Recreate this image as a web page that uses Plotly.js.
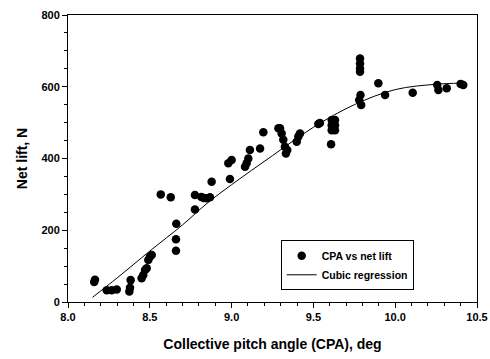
<!DOCTYPE html>
<html>
<head>
<meta charset="utf-8">
<script src="https://cdn.plot.ly/plotly-3.0.1.min.js"></script>
<style>html,body{margin:0;padding:0;background:#fff;}#chart{width:490px;height:359px;}</style>
</head>
<body>
<div id="chart"></div>
<script>
// Measured data: collective pitch angle (deg) vs net lift (N)
const cpa = [
  8.160, 8.165, 8.237, 8.267, 8.298, 8.375, 8.379, 8.383,
  8.450, 8.460, 8.471, 8.481, 8.491, 8.501, 8.512,
  8.567, 8.628, 8.660, 8.660, 8.662,
  8.776, 8.776, 8.815, 8.830, 8.848, 8.868, 8.878,
  8.980, 8.990, 9.000, 9.082, 9.092, 9.102, 9.112, 9.174, 9.194,
  9.286, 9.296, 9.306, 9.316, 9.326, 9.332, 9.340,
  9.398, 9.408, 9.418, 9.530, 9.540,
  9.612, 9.632, 9.612, 9.632, 9.612, 9.632, 9.608,
  9.785, 9.785, 9.785, 9.785, 9.788, 9.780, 9.792,
  9.897, 9.938, 10.107, 10.257, 10.264, 10.315, 10.400, 10.416
];
const netLift = [
  56, 62, 33, 33, 35, 29, 40, 61,
  66, 75, 89, 94, 117, 126, 131,
  300, 292, 175, 143, 218,
  258, 298, 293, 290, 289, 292, 335,
  387, 343, 396, 377, 387, 400, 424, 428, 473,
  484, 484, 470, 452, 433, 414, 424,
  447, 461, 470, 496, 499,
  507, 507, 493, 493, 479, 479, 440,
  679, 665, 651, 642, 577, 563, 549,
  610, 577, 583, 605, 591, 596, 608, 605
];
// Cubic regression curve
const fitX = [8.15, 8.30, 8.50, 8.70, 8.85, 9.00, 9.25, 9.50, 9.75, 10.00, 10.25, 10.40];
const fitY = [13, 67, 142, 215, 275, 327, 408, 487, 550, 592, 607, 610];

const xTicks = [8.0, 8.5, 9.0, 9.5, 10.0, 10.5];
const yTicks = [0, 200, 400, 600, 800];

const fontFam = '"Liberation Sans", Arial, sans-serif';

const traces = [
  {
    x: cpa, y: netLift, type: 'scatter', mode: 'markers',
    name: 'CPA vs net lift',
    marker: {color: '#000', size: 8.5, symbol: 'circle'}
  },
  {
    x: fitX, y: fitY, type: 'scatter', mode: 'lines',
    name: 'Cubic regression',
    line: {color: '#000', width: 1, shape: 'spline', smoothing: 1}
  }
];

const axisCommon = {
  showgrid: false, zeroline: false, showline: true, linecolor: '#000', linewidth: 1,
  mirror: true, ticks: 'outside', ticklen: 5, tickcolor: '#000', tickwidth: 1,
  tickfont: {family: fontFam, size: 11, color: '#000', weight: 'bold'}
};

const layout = {
  width: 490, height: 359,
  margin: {l: 68, r: 13, t: 15, b: 57},
  paper_bgcolor: '#fff', plot_bgcolor: '#fff',
  showlegend: true,
  legend: {
    x: 0.52, y: 0.215, xanchor: 'left', yanchor: 'top',
    bgcolor: '#fff', bordercolor: '#000', borderwidth: 1,
    font: {family: fontFam, size: 10.5, color: '#000', weight: 'bold'},
    tracegroupgap: 0, itemwidth: 30
  },
  xaxis: Object.assign({}, axisCommon, {
    range: [8.0, 10.5], tickvals: xTicks, ticktext: xTicks.map(v => v.toFixed(1)),
    minor: {dtick: 0.1, ticks: 'outside', ticklen: 3, tickcolor: '#000', showgrid: false},
    title: {text: 'Collective pitch angle (CPA), deg', standoff: 16,
            font: {family: fontFam, size: 14, color: '#000', weight: 'bold'}}
  }),
  yaxis: Object.assign({}, axisCommon, {
    range: [0, 800], tickvals: yTicks,
    minor: {dtick: 50, ticks: 'outside', ticklen: 3, tickcolor: '#000', showgrid: false},
    title: {text: 'Net lift, N', standoff: 10,
            font: {family: fontFam, size: 14, color: '#000', weight: 'bold'}}
  })
};

Plotly.newPlot('chart', traces, layout, {displayModeBar: false, staticPlot: true});
</script>
</body>
</html>
